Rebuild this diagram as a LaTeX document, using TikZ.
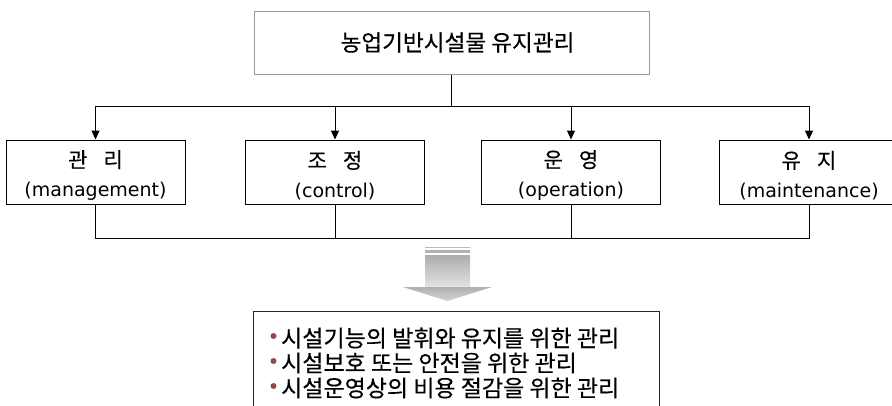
\documentclass[tikz,border=0pt]{standalone}
\usepackage{fontspec}
\setmainfont{DejaVu Sans}
\newfontfamily\kr[FakeBold=0.4]{Noto Sans CJK KR}
\usetikzlibrary{arrows.meta}
\definecolor{bulletc}{RGB}{150,72,72}
\tikzset{
  catbox/.style={draw=black, line width=1pt, minimum width=179pt, minimum height=64pt,
    align=center, inner sep=0pt, font=\fontsize{19}{29}\selectfont},
  conn/.style={line width=1pt},
  arr/.style={line width=1pt, -{Triangle[length=9pt,width=8pt]}},
  sumline/.style={anchor=west, inner sep=0pt, font=\kr\fontsize{23}{25}\selectfont},
}
\newcommand{\kpair}[2]{\rule{0pt}{24pt}{\kr\fontsize{21}{29}\selectfont #1\hspace{16pt}#2}}
\begin{document}
\begin{tikzpicture}[x=1pt,y=-1pt]
\useasboundingbox (0,0) rectangle (892,405);
\fill[white] (0,0) rectangle (892,405);

\node[draw=gray!80, line width=1pt, minimum width=395pt, minimum height=63pt, inner sep=0pt,
  font=\kr\fontsize{22.6}{24}\selectfont] (top) at (451.5,42.5) {\hspace{12pt}농업기반시설물 유지관리};

\node[catbox] (b1) at (95.5,172) {\kpair{관}{리}\\(management)};
\node[catbox] (b2) at (335,172) {\kpair{조}{정}\\(control)};
\node[catbox] (b3) at (571,172) {\kpair{운}{영}\\(operation)};
\node[catbox] (b4) at (809,172) {\kpair{유}{지}\\(maintenance)};

\coordinate (j) at (451.5,106);
\draw[conn] (top.south) -- (j);
\draw[arr] (j) -| (b1.north);
\draw[arr] (j) -| (b2.north);
\draw[arr] (j) -| (b3.north);
\draw[arr] (j) -| (b4.north);

\coordinate (bl) at (95.5,238);
\coordinate (br) at (809,238);
\draw[conn] (b1.south) -- (bl) -- (br) -- (b4.south);
\draw[conn] (b2.south) -- (b2.south |- bl);
\draw[conn] (b3.south) -- (b3.south |- bl);

% big grey arrow
\fill[gray!55] (425,246.7) rectangle (470,248.3);
\fill[gray!60] (425,250) rectangle (470,252.7);
\shade[top color=gray!65, bottom color=gray!22] (425,255) rectangle (470,287);
\shade[top color=gray!62, bottom color=gray!35] (403,287) -- (492,287) -- (447.5,301) -- cycle;

% summary box
\node[draw=gray!30!black, line width=1pt, anchor=north west, minimum width=406pt,
  minimum height=110pt, inner sep=0pt] (sumbox) at (253,311) {};
\node[sumline] (l1) at (281,338) {시설기능의 발휘와 유지를 위한 관리};
\node[sumline] (l2) at (281,363) {시설보호 또는 안전을 위한 관리};
\node[sumline] (l3) at (281,388) {시설운영상의 비용 절감을 위한 관리};
\fill[bulletc] (273.5,336) circle (3);
\fill[bulletc] (273.5,361) circle (3);
\fill[bulletc] (273.5,386) circle (3);
\end{tikzpicture}
\end{document}
